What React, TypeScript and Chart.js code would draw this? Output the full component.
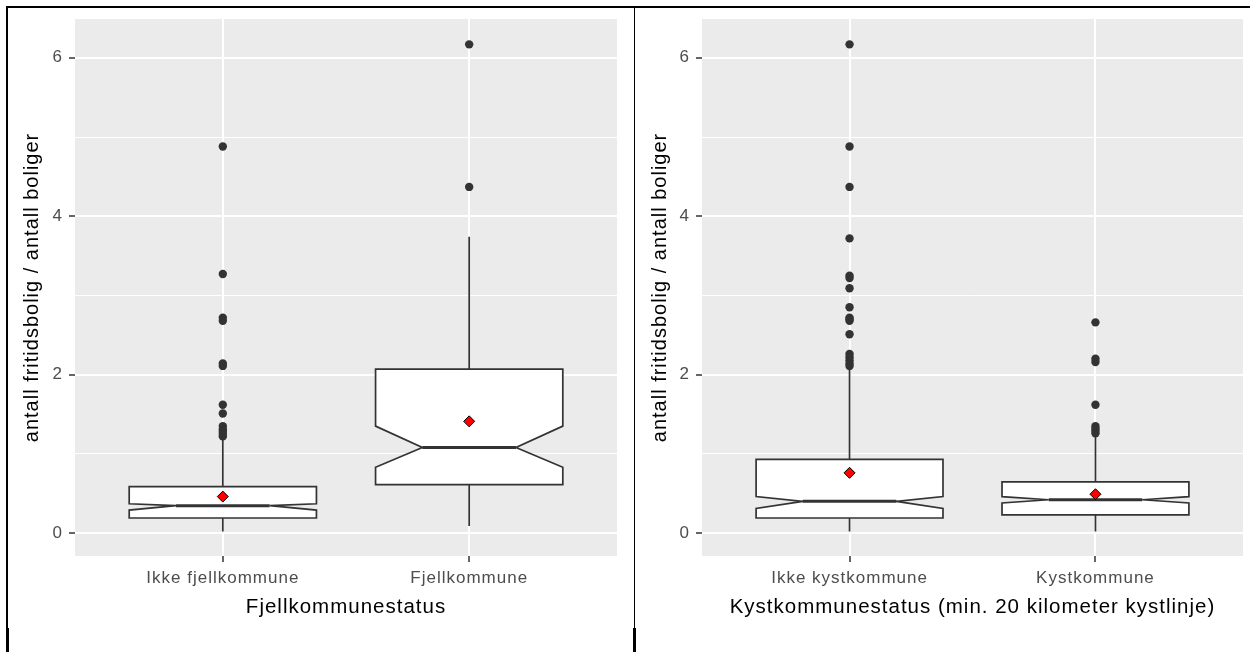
import React, { useEffect, useRef } from 'react';
import { Chart, registerables } from 'chart.js';

Chart.register(...registerables);

// ---------- data ----------
const yTickValues = [0, 1, 2, 3, 4, 5, 6];
const yTickLabels = ['0', '', '2', '', '4', '', '6'];
const yAxisTitle = 'antall fritidsbolig / antall boliger';

const fjellTitle = 'Fjellkommunestatus';
const fjellCategories = ['Ikke fjellkommune', 'Fjellkommune'];
const fjellWhiskerLow = [0.02, 0.09];
const fjellQ1 = [0.19, 0.61];
const fjellNotchLow = [0.29, 0.83];
const fjellMedian = [0.345, 1.08];
const fjellNotchHigh = [0.37, 1.35];
const fjellQ3 = [0.585, 2.07];
const fjellWhiskerHigh = [1.19, 3.74];
const fjellMean = [0.46, 1.41];
const fjellOutliersIkke = [4.88, 3.27, 2.72, 2.68, 2.14, 2.11, 1.62, 1.51, 1.35, 1.31, 1.28, 1.25, 1.22];
const fjellOutliersFjell = [6.17, 4.37];

const kystTitle = 'Kystkommunestatus (min. 20 kilometer kystlinje)';
const kystCategories = ['Ikke kystkommune', 'Kystkommune'];
const kystWhiskerLow = [0.02, 0.02];
const kystQ1 = [0.19, 0.23];
const kystNotchLow = [0.31, 0.38];
const kystMedian = [0.40, 0.42];
const kystNotchHigh = [0.46, 0.46];
const kystQ3 = [0.93, 0.645];
const kystWhiskerHigh = [2.06, 1.22];
const kystMean = [0.76, 0.49];
const kystOutliersIkke = [6.17, 4.88, 4.37, 3.72, 3.25, 3.22, 3.09, 2.85, 2.72, 2.70, 2.68, 2.51, 2.26, 2.22, 2.18, 2.14, 2.11];
const kystOutliersKyst = [2.66, 2.20, 2.16, 1.62, 1.35, 1.32, 1.29, 1.26];

// ---------- style ----------
const FONT = '"Liberation Sans", Arial, sans-serif';
const BOX_HALF = 0.38;

type PanelProps = {
  left: number;
  width: number;
  yAxisWidth: number;
  padRight: number;
  title: string;
  categories: string[];
  whiskerLow: number[];
  q1: number[];
  notchLow: number[];
  median: number[];
  notchHigh: number[];
  q3: number[];
  whiskerHigh: number[];
  mean: number[];
  outliers: number[][];
};

function Panel(p: PanelProps) {
  const ref = useRef<HTMLCanvasElement | null>(null);
  const height = 643;
  useEffect(() => {
    if (!ref.current) return;
    const boxPlugin = {
      id: 'notchedBoxes',
      beforeDraw(chart: any) {
        const { ctx, chartArea } = chart;
        ctx.letterSpacing = '1px';
        ctx.save();
        ctx.fillStyle = '#EBEBEB';
        ctx.fillRect(chartArea.left, chartArea.top, chartArea.right - chartArea.left, chartArea.bottom - chartArea.top);
        ctx.restore();
      },
      beforeDatasetsDraw(chart: any) {
        const { ctx, scales } = chart;
        const x = scales.x;
        const y = scales.y;
        ctx.save();
        ctx.strokeStyle = '#333333';
        ctx.lineJoin = 'miter';
        p.categories.forEach((_, i) => {
          const cx = x.getPixelForValue(i + 1);
          const hw = Math.abs(x.getPixelForValue(i + 1 + BOX_HALF) - cx);
          const xl = cx - hw;
          const xr = cx + hw;
          const nw = hw * 0.5;
          const pWL = y.getPixelForValue(p.whiskerLow[i]);
          const pQ1 = y.getPixelForValue(p.q1[i]);
          const pNL = y.getPixelForValue(p.notchLow[i]);
          const pMed = y.getPixelForValue(p.median[i]);
          const pNH = y.getPixelForValue(p.notchHigh[i]);
          const pQ3 = y.getPixelForValue(p.q3[i]);
          const pWH = y.getPixelForValue(p.whiskerHigh[i]);
          ctx.lineWidth = 1.7;
          ctx.beginPath();
          ctx.moveTo(cx, pWH);
          ctx.lineTo(cx, pQ3);
          ctx.moveTo(cx, pQ1);
          ctx.lineTo(cx, pWL);
          ctx.stroke();
          ctx.beginPath();
          ctx.moveTo(xl, pQ1);
          ctx.lineTo(xl, pNL);
          ctx.lineTo(xl + nw, pMed);
          ctx.lineTo(xl, pNH);
          ctx.lineTo(xl, pQ3);
          ctx.lineTo(xr, pQ3);
          ctx.lineTo(xr, pNH);
          ctx.lineTo(xr - nw, pMed);
          ctx.lineTo(xr, pNL);
          ctx.lineTo(xr, pQ1);
          ctx.closePath();
          ctx.fillStyle = '#FFFFFF';
          ctx.fill();
          ctx.stroke();
          ctx.lineWidth = 3;
          ctx.beginPath();
          ctx.moveTo(xl + nw, pMed);
          ctx.lineTo(xr - nw, pMed);
          ctx.stroke();
        });
        ctx.restore();
      },
    };

    const outlierData: { x: number; y: number }[] = [];
    p.outliers.forEach((arr, i) => arr.forEach((v) => outlierData.push({ x: i + 1, y: v })));
    const meanData = p.mean.map((v, i) => ({ x: i + 1, y: v }));

    const chart = new Chart(ref.current, {
      type: 'scatter',
      data: {
        datasets: [
          {
            data: outlierData,
            pointRadius: 4.2,
            pointBackgroundColor: '#333333',
            pointBorderWidth: 0,
            pointBorderColor: '#333333',
          },
          {
            data: meanData,
            pointStyle: 'rectRot',
            pointRadius: 5.5,
            pointBackgroundColor: '#FF0000',
            pointBorderColor: '#000000',
            pointBorderWidth: 1,
          },
        ],
      },
      plugins: [boxPlugin],
      options: {
        responsive: false,
        maintainAspectRatio: false,
        animation: false,
        devicePixelRatio: 1,
        layout: { padding: { top: 10, right: p.padRight, bottom: 0, left: 0 } },
        plugins: { legend: { display: false }, tooltip: { enabled: false } },
        scales: {
          x: {
            type: 'linear',
            min: 0.4,
            max: 2.6,
            afterBuildTicks: (axis: any) => {
              axis.ticks = p.categories.map((_, i) => ({ value: i + 1 }));
            },
            afterFit: (axis: any) => {
              axis.height = 96;
              axis.paddingLeft = 0;
              axis.paddingRight = 0;
            },
            border: { display: false },
            grid: {
              color: '#FFFFFF',
              lineWidth: 2,
              tickColor: '#333333',
              tickWidth: 1.5,
              tickLength: 6,
            },
            ticks: {
              padding: 6,
              maxRotation: 0,
              autoSkip: false,
              color: '#4D4D4D',
              font: { family: FONT, size: 17 },
              callback: (_v: any, index: number) => p.categories[index] ?? '',
            },
            title: {
              display: true,
              text: p.title,
              color: '#000000',
              font: { family: FONT, size: 20.5 },
              padding: { top: 0, bottom: 32 },
            },
          },
          y: {
            type: 'linear',
            min: -0.29,
            max: 6.49,
            afterBuildTicks: (axis: any) => {
              axis.ticks = yTickValues.map((v) => ({ value: v }));
            },
            afterFit: (axis: any) => {
              axis.width = p.yAxisWidth;
              axis.paddingTop = 0;
              axis.paddingBottom = 0;
            },
            border: { display: false },
            grid: {
              color: '#FFFFFF',
              lineWidth: (c: any) => (c.tick && c.tick.value % 2 === 0 ? 2 : 1),
              tickColor: (c: any) => (c.tick && c.tick.value % 2 === 0 ? '#333333' : 'rgba(0,0,0,0)'),
              tickWidth: 1.5,
              tickLength: 6,
            },
            ticks: {
              padding: 6,
              autoSkip: false,
              color: '#4D4D4D',
              font: { family: FONT, size: 17 },
              callback: (_v: any, index: number) => yTickLabels[index] ?? '',
            },
            title: {
              display: true,
              text: yAxisTitle,
              color: '#000000',
              font: { family: FONT, size: 20 },
              padding: { top: 12, bottom: 0 },
            },
          },
        },
      } as any,
    });
    return () => chart.destroy();
  }, []);

  return (
    <canvas
      ref={ref}
      width={p.width}
      height={height}
      style={{ position: 'absolute', left: p.left, top: 9, width: p.width, height, display: 'block' }}
    />
  );
}

export default function App() {
  const line = (l: number, t: number, w: number, h: number) => (
    <div style={{ position: 'absolute', left: l, top: t, width: w, height: h, background: '#000' }} />
  );
  return (
    <div style={{ position: 'absolute', left: 0, top: 0, width: 1250, height: 652, background: '#fff', overflow: 'hidden' }}>
      <Panel
        left={8}
        width={625}
        yAxisWidth={67}
        padRight={16}
        title={fjellTitle}
        categories={fjellCategories}
        whiskerLow={fjellWhiskerLow}
        q1={fjellQ1}
        notchLow={fjellNotchLow}
        median={fjellMedian}
        notchHigh={fjellNotchHigh}
        q3={fjellQ3}
        whiskerHigh={fjellWhiskerHigh}
        mean={fjellMean}
        outliers={[fjellOutliersIkke, fjellOutliersFjell]}
      />
      <Panel
        left={636}
        width={614}
        yAxisWidth={66}
        padRight={7}
        title={kystTitle}
        categories={kystCategories}
        whiskerLow={kystWhiskerLow}
        q1={kystQ1}
        notchLow={kystNotchLow}
        median={kystMedian}
        notchHigh={kystNotchHigh}
        q3={kystQ3}
        whiskerHigh={kystWhiskerHigh}
        mean={kystMean}
        outliers={[kystOutliersIkke, kystOutliersKyst]}
      />
      {line(6, 6, 1244, 2)}
      {line(6, 6, 2, 646)}
      {line(6, 628, 3, 24)}
      {line(634, 6, 1, 646)}
      {line(633, 628, 3, 24)}
    </div>
  );
}
